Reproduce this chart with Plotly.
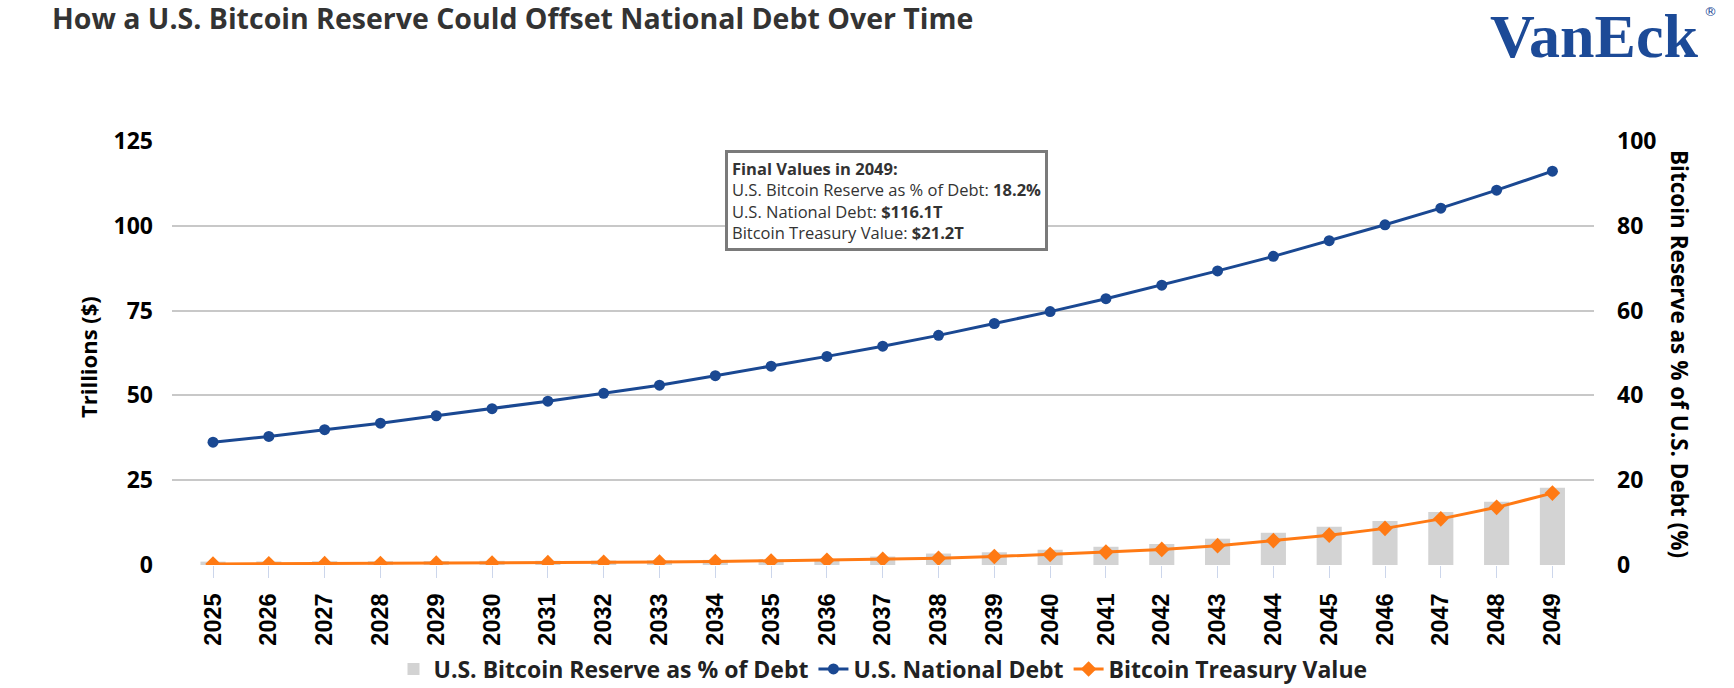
import plotly.graph_objects as go

years = [str(y) for y in range(2025, 2050)]
debt = [36.2, 37.9, 39.9, 41.8, 44.0, 46.1, 48.3, 50.6, 53.0, 55.8, 58.6, 61.5, 64.5,
        67.7, 71.2, 74.7, 78.5, 82.5, 86.7, 91.0, 95.6, 100.3, 105.2, 110.5, 116.1]
btc_value = [0.3, 0.35, 0.4, 0.45, 0.55, 0.6, 0.7, 0.8, 0.9, 1.0, 1.2, 1.4, 1.7,
             2.0, 2.5, 3.1, 3.8, 4.6, 5.7, 7.2, 8.8, 10.8, 13.6, 17.0, 21.2]
reserve_pct = [0.8, 0.85, 0.9, 0.9, 0.95, 1.0, 1.0, 1.05, 1.1, 1.2, 1.3, 1.4, 2.0,
               2.7, 3.0, 3.6, 4.3, 4.95, 6.2, 7.6, 9.0, 10.4, 12.5, 14.9, 18.2]
y_left_ticks = [0, 25, 50, 75, 100, 125]
y_right_ticks = [0, 20, 40, 60, 80, 100]

FONT = "Open Sans"
NAVY = "#1a4892"
ORANGE = "#ff7a14"
GRAY = "#d3d3d3"

fig = go.Figure()
fig.add_trace(go.Bar(
    x=years, y=reserve_pct, name="U.S. Bitcoin Reserve as % of Debt",
    marker=dict(color=GRAY, line=dict(width=0)), width=0.45, yaxis="y",
))
fig.add_trace(go.Scatter(
    x=years, y=debt, name="U.S. National Debt", mode="lines+markers",
    line=dict(color=NAVY, width=3), marker=dict(symbol="circle", size=11, color=NAVY),
    yaxis="y2",
))
fig.add_trace(go.Scatter(
    x=years, y=btc_value, name="Bitcoin Treasury Value", mode="lines+markers",
    line=dict(color=ORANGE, width=3),
    marker=dict(symbol="diamond", size=12, color=ORANGE),
    yaxis="y2",
))

W, H = 1734, 688
L, R, T, B = 172, 140, 141, 123
pw = W - L - R
ph = H - T - B

def px_x(x):
    return (x - L) / pw

def px_y(y):
    return (H - B - y) / ph

fig.update_layout(
    width=W, height=H,
    margin=dict(l=L, r=R, t=T, b=B, pad=0, autoexpand=False),
    paper_bgcolor="white", plot_bgcolor="white",
    font=dict(family=FONT, color="#000000"),
    showlegend=True,
    title=dict(
        text="<b>How a U.S. Bitcoin Reserve Could Offset National Debt Over Time</b>",
        x=52 / W, xanchor="left", xref="container",
        y=1 - 19 / H, yanchor="middle", yref="container",
        font=dict(family=FONT, size=28.5, color="#333333"),
    ),
    xaxis=dict(
        type="category", range=[-0.735, 24.745], automargin=False,
        showgrid=False, showline=False, zeroline=False,
        ticks="outside", ticklen=12, tickwidth=1, tickcolor="#ccd6eb",
        tickangle=-90, ticklabelstandoff=6,
        tickfont=dict(family="Liberation Sans", size=23.5, color="#000000", weight="bold"),
    ),
    yaxis=dict(
        side="right", range=[0, 100], tickvals=y_right_ticks, automargin=False,
        showgrid=True, gridcolor="#c8c8c8", gridwidth=1.6,
        zeroline=False, showline=False, ticks="",
        ticklabelstandoff=22,
        tickfont=dict(family=FONT, size=23, color="#000000", weight="bold"),
        fixedrange=True,
    ),
    yaxis2=dict(
        side="left", overlaying="y", range=[0, 125], tickvals=y_left_ticks,
        automargin=False,
        showgrid=False, zeroline=False, showline=False, ticks="",
        ticklabelstandoff=18,
        tickfont=dict(family=FONT, size=23, color="#000000", weight="bold"),
        fixedrange=True,
    ),
    legend=dict(
        orientation="h", x=0.5, xanchor="center", xref="paper",
        y=1 - 669 / H, yanchor="middle", yref="container",
        font=dict(family=FONT, size=23, color="#222222", weight="bold"),
        itemwidth=30, traceorder="normal", bgcolor="rgba(0,0,0,0)",
    ),
    annotations=[
        dict(
            text="<b>Trillions ($)</b>", textangle=-90,
            xref="paper", yref="paper", x=px_x(88), y=px_y(357),
            xanchor="center", yanchor="middle", showarrow=False,
            font=dict(family=FONT, size=22, color="#000000"),
        ),
        dict(
            text="<b>Bitcoin Reserve as % of U.S. Debt (%)</b>", textangle=90,
            xref="paper", yref="paper", x=px_x(1680), y=px_y(354),
            xanchor="center", yanchor="middle", showarrow=False,
            font=dict(family=FONT, size=22.5, color="#000000"),
        ),
        dict(
            text=("<b>Final Values in 2049:</b><br>"
                  "U.S. Bitcoin Reserve as % of Debt: <b>18.2%</b><br>"
                  "U.S. National Debt: <b>$116.1T</b><br>"
                  "Bitcoin Treasury Value: <b>$21.2T</b>"),
            align="left", xref="paper", yref="paper",
            x=px_x(725), y=px_y(150), xanchor="left", yanchor="top",
            showarrow=False, bgcolor="white", bordercolor="#7a7a7a",
            borderwidth=3, borderpad=4,
            font=dict(family=FONT, size=16.5, color="#333333"),
        ),
        dict(
            text="<b>VanEck</b>", xref="paper", yref="paper",
            x=px_x(1488), y=px_y(0), xanchor="left", yanchor="top",
            showarrow=False,
            font=dict(family="Liberation Serif", size=62, color="#1c4a97"),
        ),
        dict(
            text="®", xref="paper", yref="paper",
            x=px_x(1710), y=px_y(11), xanchor="center", yanchor="middle",
            showarrow=False,
            font=dict(family="DejaVu Sans", size=13, color="#1c4a97"),
        ),
    ],
)

fig.write_html(
    "out.html",
    config={"displayModeBar": False},
    post_script="document.body.style.margin='0';document.body.style.overflow='hidden';",
)
